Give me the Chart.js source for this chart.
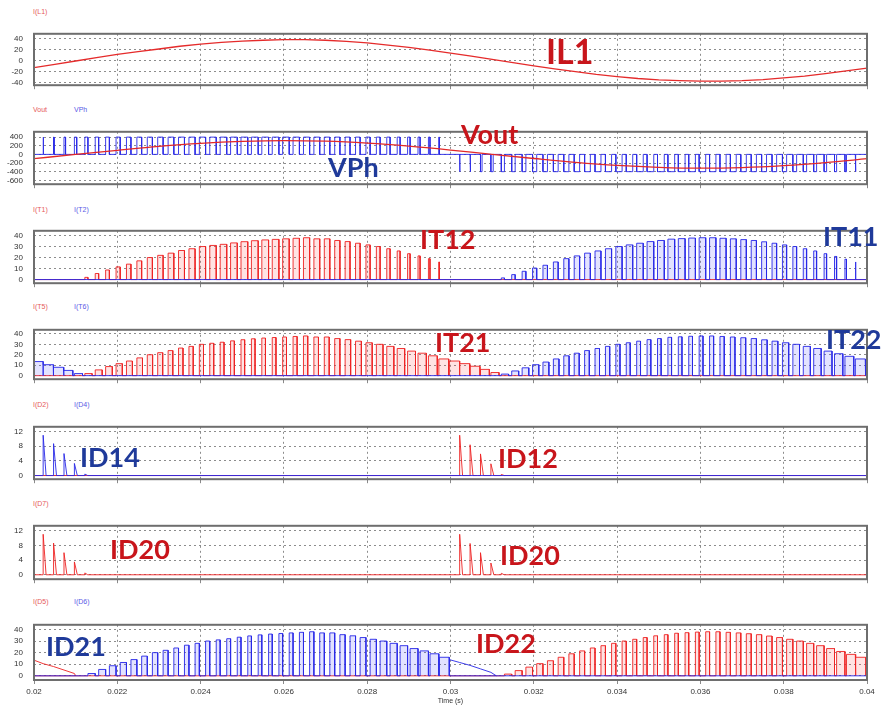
<!DOCTYPE html>
<html>
<head>
    <title>Inverter switching waveforms</title>
    <script src="https://cdn.jsdelivr.net/npm/chart.js@4.4.1/dist/chart.umd.min.js"></script>
    <style>
        body {
            margin: 0;
            background: #ffffff;
            font-family: Arial, "Liberation Sans", sans-serif;
        }
        #page {
            position: relative;
            width: 881px;
            height: 706px;
            overflow: hidden;
        }
        #page canvas {
            position: absolute;
            left: 0;
        }
        .hdr {
            position: absolute;
            font-size: 7px;
            line-height: 10px;
            white-space: nowrap;
        }
        .hdr.r { color: #e65a5a; }
        .hdr.b { color: #5a5ae6; }
        .big {
            position: absolute;
            font-family: Lato, "Open Sans", sans-serif;
            font-weight: bold;
            font-size: 27px;
            line-height: 1;
            white-space: nowrap;
            z-index: 5;
        }
        .big.r { color: #c8151b; }
        .big.b { color: #1f3a9a; }
    </style>
</head>
<body>
<div id="page">
    <!-- small trace names above each plot -->
    <div class="hdr r" style="left:33px;top:7px">I(L1)</div>
    <div class="hdr r" style="left:33px;top:105px">Vout</div>
    <div class="hdr b" style="left:74px;top:105px">VPh</div>
    <div class="hdr r" style="left:33px;top:205px">I(T1)</div>
    <div class="hdr b" style="left:74px;top:205px">I(T2)</div>
    <div class="hdr r" style="left:33px;top:302px">I(T5)</div>
    <div class="hdr b" style="left:74px;top:302px">I(T6)</div>
    <div class="hdr r" style="left:33px;top:400px">I(D2)</div>
    <div class="hdr b" style="left:74px;top:400px">I(D4)</div>
    <div class="hdr r" style="left:33px;top:499px">I(D7)</div>
    <div class="hdr r" style="left:33px;top:597px">I(D5)</div>
    <div class="hdr b" style="left:74px;top:597px">I(D6)</div>

    <!-- big annotations -->
    <div class="big r" style="left:546px;top:34px;font-size:34px">IL1</div>
    <div class="big r" style="left:461px;top:120px">Vout</div>
    <div class="big b" style="left:328px;top:153px">VPh</div>
    <div class="big r" style="left:420px;top:225px">IT12</div>
    <div class="big b" style="left:823px;top:222px">IT11</div>
    <div class="big r" style="left:435px;top:328px">IT21</div>
    <div class="big b" style="left:826px;top:325px">IT22</div>
    <div class="big b" style="left:80px;top:443px">ID14</div>
    <div class="big r" style="left:498px;top:444px">ID12</div>
    <div class="big r" style="left:110px;top:535px">ID20</div>
    <div class="big r" style="left:500px;top:541px">ID20</div>
    <div class="big b" style="left:46px;top:632px">ID21</div>
    <div class="big r" style="left:476px;top:629px">ID22</div>
</div>

<script>
    // ---- data ----
    const timeTicks = [0.02, 0.022, 0.024, 0.026, 0.028, 0.03, 0.032, 0.034, 0.036, 0.038, 0.04];
    const il1Ticks = [-40, -20, 0, 20, 40];
    const voltTicks = [-600, -400, -200, 0, 200, 400];
    const currentTicks = [0, 10, 20, 30, 40];
    const diodeTicks = [0, 4, 8, 12];

    // inductor current, one value every 0.5 ms from 0.02 s
    const il1Step = 0.0005;
    const il1 = [-13, -7, -1, 5, 11, 16, 21, 26, 30, 33, 35.5, 37, 38, 38, 37, 35, 32, 28, 24, 19,
                 13.5, 8, 2, -4, -10, -15.5, -20.5, -25.5, -29.5, -33, -35.5, -37, -38, -38, -37, -35, -32, -28.5, -24, -19, -14];

    // output voltage, one value every 1 ms from 0.02 s
    const voutStep = 0.001;
    const vout = [-100, 0, 95, 185, 255, 300, 320, 305, 260, 190, 100, 0, -95, -185, -255, -300, -320, -305, -260, -190, -100];

    // switching grid: 4 kHz carrier, 40 periods per half cycle
    const pulseStart = 0.02022;
    const pulsePeriod = 0.00025;
    const vphLevels = [400, -400];

    // on-time fraction of each period in a half cycle
    const duty = [0.03, 0.05, 0.15, 0.22,
                  0.3, 0.33, 0.36, 0.4, 0.43, 0.46, 0.49,
                  0.52, 0.55, 0.57, 0.59, 0.6, 0.62, 0.63, 0.64, 0.65, 0.65,
                  0.65, 0.64, 0.63, 0.61, 0.59, 0.56, 0.53, 0.5, 0.47, 0.44,
                  0.4, 0.36, 0.32, 0.28, 0.24, 0.2, 0.15, 0.05, 0];

    // current magnitude at each switching instant, first and second half
    const envA = [10.5, 8, 5, 2,
                  2, 5.5, 8.7, 11.5, 14, 17, 20, 22, 24, 26.4, 28, 30, 31, 32, 33.3, 34.4, 35.3, 36, 36.5, 37,
                  37.5, 38, 37, 37, 35.5, 34.5, 33, 31.5, 30, 28, 26, 23.5, 21.5, 19, 16, 14];
    const envB = [11.5, 9, 6, 3,
                  1.5, 4.5, 7.5, 10.5, 13, 16, 19, 21.5,
                  24, 26, 28, 30, 31.5, 33, 34.5, 35.5, 36.7, 37.2, 37.7, 38, 38, 37.5, 37, 36.3, 35.5, 34.3,
                  33, 31.5, 30, 28, 26, 23.5, 21, 18.5, 16, 14];
    const iStart = 13.5;
    const zeroCross = [0.0210, 0.0311];

    // diode reverse-recovery spikes
    const spikeD4 = [11, 8.7, 6, 3.3, 0.4];
    const spikeD2 = [11, 8.4, 5.9, 3.2, 0.3];
    const spikeD7a = [11, 8.6, 6, 3.5, 0.5];
    const spikeD7b = [11, 8.5, 6, 3.2, 0.4];
    const spikeFall = 0.00007;

    // ---- build the traces ----
    const T = pulsePeriod;
    const tk = k => pulseStart + k * T;

    function addPulse(pts, from, to, h) {
        pts.push({x: from, y: 0}, {x: from, y: h}, {x: to, y: h}, {x: to, y: 0});
    }
    function addSpike(pts, at, h) {
        pts.push({x: at, y: 0}, {x: at, y: h}, {x: at + spikeFall, y: 0});
    }

    const il1Pts = il1.map((v, i) => ({x: 0.02 + i * il1Step, y: v}));
    const voutPts = vout.map((v, i) => ({x: 0.02 + i * voutStep, y: v}));

    const vph = [{x: 0.02, y: 0}];
    for (let k = 0; k <= 38; k++) addPulse(vph, tk(k), tk(k) + duty[k] * T, vphLevels[0]);
    for (let k = 40; k <= 78; k++) addPulse(vph, tk(k), tk(k) + duty[k - 40] * T, vphLevels[1]);
    vph.push({x: 0.04, y: 0});

    // T1 / T2
    const t1 = [{x: 0.02, y: 0}];
    for (let k = 4; k <= 38; k++) addPulse(t1, tk(k), tk(k) + duty[k] * T, envA[k]);
    t1.push({x: 0.04, y: 0});
    const t2 = [{x: 0.02, y: 0}];
    for (let k = 44; k <= 78; k++) addPulse(t2, tk(k), tk(k) + duty[k - 40] * T, envB[k - 40]);
    t2.push({x: 0.04, y: 0});

    // T5 / T6
    const t5 = [{x: 0.02, y: 0}];
    for (let k = 4; k <= 43; k++) {
        const d = k < 40 ? duty[k] : duty[k - 40];
        const h = k < 40 ? envA[k] : envB[k - 40];
        addPulse(t5, tk(k), tk(k) + (1 - d) * T, h);
    }
    t5.push({x: 0.04, y: 0});
    const t6 = [];
    addPulse(t6, 0.02, tk(0), iStart);
    for (let k = 0; k <= 3; k++) addPulse(t6, tk(k), tk(k) + (1 - duty[k]) * T, envA[k]);
    for (let k = 44; k <= 79; k++) addPulse(t6, tk(k), tk(k) + (1 - duty[k - 40]) * T, envB[k - 40]);

    // D5 / D6 freewheeling
    const d6 = [{x: 0.02, y: 0}];
    for (let k = 4; k <= 38; k++) addPulse(d6, tk(k) + duty[k] * T, tk(k + 1), envA[k]);
    d6.push({x: 0.04, y: 0});
    const d6Tail = [{x: tk(39), y: envA[39]}];
    for (let k = 40; k <= 43; k++) d6Tail.push({x: tk(k), y: envB[k - 40]});
    d6Tail.push({x: zeroCross[1], y: 0});

    const d5Tail = [{x: 0.02, y: iStart}];
    for (let k = 0; k <= 3; k++) d5Tail.push({x: tk(k), y: envA[k]});
    d5Tail.push({x: zeroCross[0], y: 0});
    const d5 = [{x: 0.02, y: 0}];
    for (let k = 44; k <= 79; k++) addPulse(d5, tk(k) + duty[k - 40] * T, tk(k + 1), envB[k - 40]);

    // diodes
    const d4 = [{x: 0.02, y: 0}];
    spikeD4.forEach((h, i) => addSpike(d4, tk(i), h));
    d4.push({x: 0.04, y: 0});
    const d2 = [{x: 0.02, y: 0}];
    spikeD2.forEach((h, i) => addSpike(d2, tk(40 + i), h));
    d2.push({x: 0.04, y: 0});
    const d7 = [{x: 0.02, y: 0}];
    spikeD7a.forEach((h, i) => addSpike(d7, tk(i), h));
    spikeD7b.forEach((h, i) => addSpike(d7, tk(40 + i), h));
    d7.push({x: 0.04, y: 0});

    // ---- drawing ----
    const RED = 'rgba(238, 34, 34, 0.9)';
    const BLUE = 'rgba(40, 40, 232, 0.9)';
    const RED_FILL = 'rgba(255, 80, 80, 0.16)';
    const BLUE_FILL = 'rgba(80, 80, 255, 0.16)';

    function ds(data, color, fillColor, extra) {
        return Object.assign({
            data: data,
            borderColor: color,
            borderWidth: 1,
            pointRadius: 0,
            tension: 0,
            fill: fillColor ? 'origin' : false,
            backgroundColor: fillColor || 'transparent'
        }, extra || {});
    }

    // first dataset in each list is drawn on top
    const panels = [
        {top: 22, bottom: 93, y: [-45.3, 48.8], ticks: il1Ticks,
         sets: [ds(il1Pts, 'rgb(229, 43, 43)', null, {borderWidth: 1.3})]},
        {top: 120, bottom: 192, y: [-690, 523], ticks: voltTicks,
         sets: [ds(voutPts, 'rgb(226, 40, 40)', null, {borderWidth: 1.3, cubicInterpolationMode: 'monotone'}),
                ds(vph, BLUE)]},
        {top: 219, bottom: 291, y: [-3.3, 44.3], ticks: currentTicks,
         sets: [ds(t2, BLUE, BLUE_FILL), ds(t1, RED, RED_FILL)]},
        {top: 318, bottom: 387, y: [-3.4, 43.9], ticks: currentTicks,
         sets: [ds(t6, BLUE, BLUE_FILL), ds(t5, RED, RED_FILL)]},
        {top: 415, bottom: 487, y: [-1.0, 13.3], ticks: diodeTicks,
         sets: [ds(d4, BLUE), ds(d2, RED)]},
        {top: 514, bottom: 587, y: [-1.2, 13.3], ticks: diodeTicks,
         sets: [ds(d7, RED)]},
        {top: 613, bottom: 680, y: [-3.6, 44], ticks: currentTicks,
         sets: [ds(d6, BLUE, BLUE_FILL), ds(d6Tail, BLUE), ds(d5Tail, RED), ds(d5, RED, RED_FILL)]}
    ];

    const frame = {
        id: 'frame',
        afterDraw(chart) {
            const {ctx, chartArea: a} = chart;
            ctx.save();
            ctx.strokeStyle = '#6e6e6e';
            ctx.lineWidth = 2;
            ctx.strokeRect(a.left, a.top, a.right - a.left, a.bottom - a.top);
            ctx.restore();
        }
    };

    const page = document.getElementById('page');

    panels.forEach((p, i) => {
        const last = i === panels.length - 1;
        const axisH = last ? 706 - p.bottom : 8;
        const cv = document.createElement('canvas');
        cv.width = 881;
        cv.height = (p.bottom - p.top) + 4 + axisH;
        cv.style.top = (p.top - 4) + 'px';
        page.appendChild(cv);

        new Chart(cv, {
            type: 'line',
            data: {datasets: p.sets},
            options: {
                responsive: false,
                animation: false,
                events: [],
                layout: {padding: {left: 0, right: 14, top: 4, bottom: 0}},
                plugins: {legend: {display: false}, tooltip: {enabled: false}},
                scales: {
                    x: {
                        type: 'linear',
                        min: 0.02,
                        max: 0.04,
                        afterBuildTicks: s => { s.ticks = timeTicks.map(v => ({value: v})); },
                        afterFit: s => { s.height = axisH; },
                        ticks: {
                            display: last,
                            autoSkip: false,
                            maxRotation: 0,
                            padding: 3,
                            color: '#333',
                            font: {size: 8, family: 'Arial'},
                            callback: v => String(v)
                        },
                        grid: {
                            color: '#8c8c8c',
                            lineWidth: 1,
                            drawTicks: true,
                            tickLength: 4,
                            tickColor: '#8a8a8a',
                            tickBorderDash: []
                        },
                        border: {display: false, dash: [2, 3]},
                        title: {
                            display: last,
                            text: 'Time (s)',
                            color: '#333',
                            font: {size: 7, family: 'Arial'},
                            padding: {top: 0, bottom: 1}
                        }
                    },
                    y: {
                        min: p.y[0],
                        max: p.y[1],
                        afterBuildTicks: s => { s.ticks = p.ticks.map(v => ({value: v})); },
                        afterFit: s => { s.width = 34; },
                        ticks: {
                            padding: 11,
                            color: '#333',
                            font: {size: 8, family: 'Arial'},
                            callback: v => String(v)
                        },
                        grid: {color: '#8c8c8c', lineWidth: 1, drawTicks: false},
                        border: {display: false, dash: [2, 3]}
                    }
                }
            },
            plugins: [frame]
        });
    });
</script>
</body>
</html>
